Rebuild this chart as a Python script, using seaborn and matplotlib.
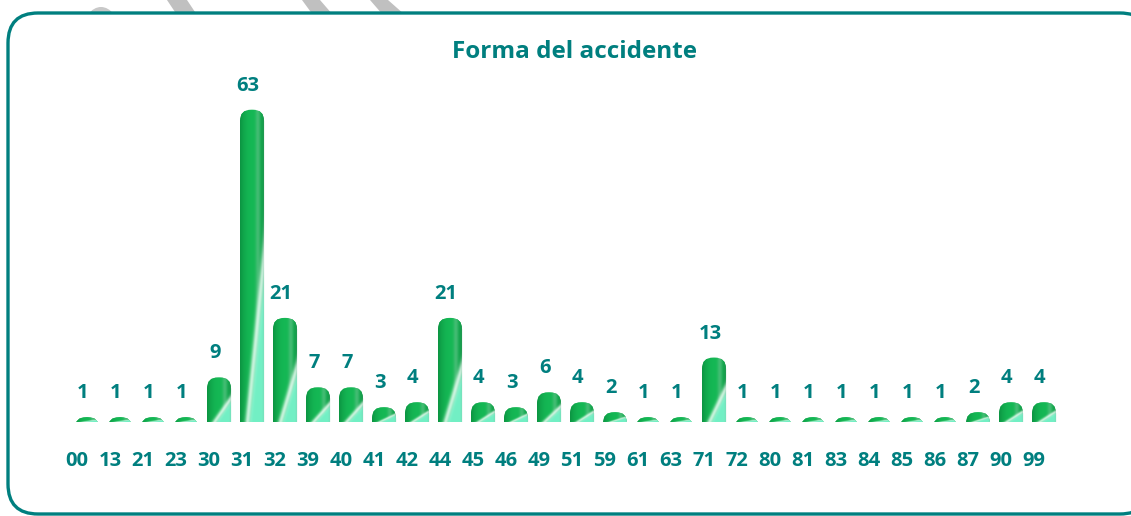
import numpy as np
import pandas as pd
import matplotlib
matplotlib.use("Agg")
import matplotlib.pyplot as plt
import matplotlib.transforms as mtransforms
from matplotlib.patches import FancyBboxPatch, Polygon, Ellipse
import seaborn as sns

# Data
codes = ["00", "13", "21", "23", "30", "31", "32", "39", "40", "41", "42", "44", "45", "46", "49",
         "51", "59", "61", "63", "71", "72", "80", "81", "83", "84", "85", "86", "87", "90", "99"]
counts = [1, 1, 1, 1, 9, 63, 21, 7, 7, 3, 4, 21, 4, 3, 6,
          4, 2, 1, 1, 13, 1, 1, 1, 1, 1, 1, 1, 2, 4, 4]
title = "Forma del accidente"

teal = "#007F7F"

sns.set_theme(style="white")
plt.rcParams['font.family'] = ['Open Sans', 'DejaVu Sans']

W, H = 1131, 516
fig = plt.figure(figsize=(W / 100, H / 100), dpi=100)
fig.patch.set_facecolor("white")

# grey watermark bits peeking above the frame
px = fig.dpi_scale_trans
for xs in [(167, 187, 197, 177), (302, 320, 333, 313), (370, 388, 405, 383)]:
    pts = [(xs[0], 0), (xs[1], 0), (xs[2], 15), (xs[3], 15)]
    fig.patches.append(Polygon([(x / 100, (H - y) / 100) for x, y in pts],
                               closed=True, facecolor="#c0c0c0", edgecolor="none",
                               transform=px, zorder=0))
fig.patches.append(Ellipse((101 / 100, (H - 32) / 100), 0.36, 0.5, facecolor="#c8c8c8",
                           edgecolor="none", transform=px, zorder=0))

# rounded teal frame
frame = FancyBboxPatch((8 / 100, 2 / 100), (1150 - 8) / 100, (H - 13 - 2) / 100,
                       boxstyle="round,pad=0,rounding_size=0.3", transform=px,
                       facecolor="white", edgecolor=teal, linewidth=2.4, zorder=1)
fig.patches.append(frame)

# axes placed so bars land where they are in the reference
left, right = 70.5, 1060.5
base, top = 422, 75
ax = fig.add_axes([left / W, (H - base) / H, (right - left) / W, (base - top) / H])
ax.set_facecolor("none")
ax.set_zorder(2)
ymax = 70

df = pd.DataFrame({"forma": codes, "casos": counts})
sns.barplot(data=df, x="forma", y="casos", color="#12a84a", saturation=1,
            width=0.73, ax=ax)

ax.set_xlim(-0.5, len(codes) - 0.5)
ax.set_ylim(0, ymax)

# glossy cylinder look for each bar
asp = ((right - left) / len(codes)) / ((base - top) / ymax)
dark = np.array([0.02, 0.47, 0.20])
mid = np.array([0.08, 0.72, 0.33])
mint = np.array([0.45, 0.94, 0.77])
white = np.array([0.94, 1.0, 0.97])
nx, ny = 60, 200
u = np.linspace(0, 1, nx)[None, :]
v = np.linspace(0, 1, ny)[:, None]
shade = np.clip(np.sin(np.pi * (u * 0.85 + 0.08)), 0, 1) ** 0.6
green = dark[None, None, :] + (mid - dark)[None, None, :] * shade[..., None]
# faint vertical sheen on the right part of the green
sheen = (0.28 * np.exp(-((u - 0.72) / 0.1) ** 2))[..., None]
green = green * (1 - sheen) + np.array([0.75, 0.85, 0.8]) * sheen
s = u - 0.3 - 1.27 * v
w_mint = np.clip((s + 0.05) / 0.2, 0, 1)[..., None]
w_white = (0.8 * np.exp(-(s / 0.11) ** 2))[..., None]
rgb = green * (1 - w_mint) + mint[None, None, :] * w_mint
rgb = rgb * (1 - w_white) + white[None, None, :] * w_white
# slight darkening at the right edge
edge = np.clip((u - 0.88) / 0.12, 0, 1)[..., None] * 0.25
rgb = np.clip(rgb * (1 - edge) + np.array([0.55, 0.6, 0.58]) * edge, 0, 1)

for p in ax.patches:
    x0, w, h = p.get_x(), p.get_width(), p.get_height()
    clip = FancyBboxPatch((x0, -5), w, h + 5,
                          boxstyle="round,pad=0,rounding_size=0.34",
                          mutation_aspect=asp, transform=ax.transData)
    p.set_clip_path(clip)
    im = ax.imshow(rgb, extent=[x0, x0 + w, 0, h], origin="lower", aspect="auto",
                   interpolation="bilinear", zorder=3)
    im.set_clip_path(clip)

ax.set_xlim(-0.5, len(codes) - 0.5)
ax.set_ylim(0, ymax)

labels = ax.bar_label(ax.containers[0], padding=10, fontsize=14.5, fontweight="bold", color=teal)
for t in labels:
    t.xyann = (-3, t.xyann[1])

sns.despine(ax=ax, left=True, bottom=True)
ax.set_yticks([])
ax.set_xlabel("")
ax.set_ylabel("")
ax.tick_params(axis="x", length=0, pad=21, labelsize=14.5, labelcolor=teal)
shift = mtransforms.ScaledTranslation(-10 / 100, 0, fig.dpi_scale_trans)
for lab in ax.get_xticklabels():
    lab.set_fontweight("bold")
    lab.set_transform(lab.get_transform() + shift)

fig.text(574.5 / W, (H - 52) / H, title, ha="center", va="center",
         fontsize=17.5, fontweight="bold", color=teal)

fig.savefig("out.png", dpi=100)
